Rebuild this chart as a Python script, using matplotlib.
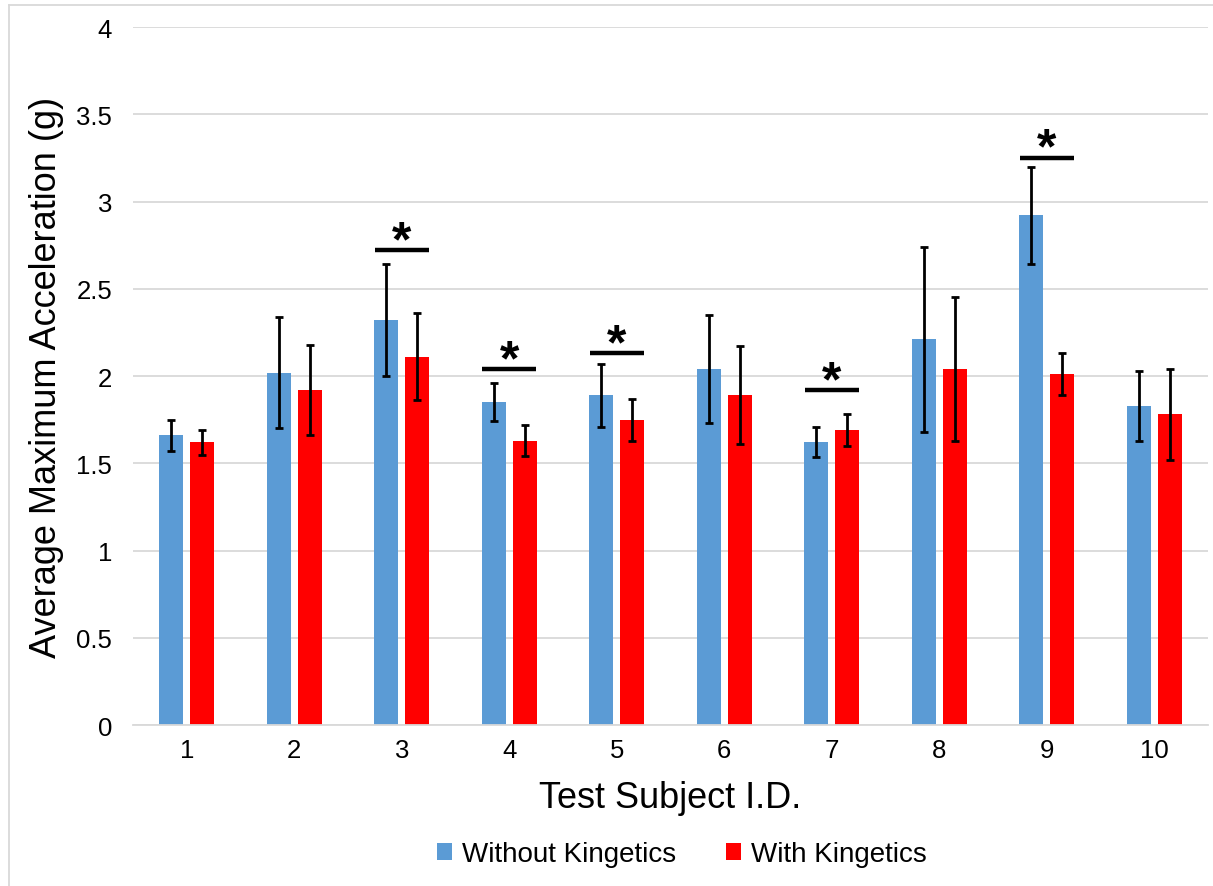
import matplotlib.pyplot as plt
import numpy as np
from matplotlib.lines import Line2D

# data
subjects = ["1", "2", "3", "4", "5", "6", "7", "8", "9", "10"]
without_mean = [1.66, 2.02, 2.32, 1.85, 1.89, 2.04, 1.62, 2.21, 2.92, 1.83]
without_err = [0.09, 0.32, 0.32, 0.11, 0.18, 0.31, 0.085, 0.53, 0.28, 0.20]
with_mean = [1.62, 1.92, 2.11, 1.63, 1.75, 1.89, 1.69, 2.04, 2.01, 1.78]
with_err = [0.07, 0.26, 0.25, 0.09, 0.12, 0.28, 0.09, 0.41, 0.12, 0.26]

# significance markers (subject index, bar height)
sig_subjects = [3, 4, 5, 7, 9]
sig_heights = [2.72, 2.04, 2.13, 1.92, 3.25]

plt.rcParams['font.family'] = ['Liberation Sans', 'DejaVu Sans']

fig = plt.figure(figsize=(12.13, 8.87), dpi=100)
ax = fig.add_axes([0.1096, 0.1815, 0.8863, 0.7869])

x = np.arange(len(subjects))
w = 0.225
off = 0.145
blue = "#5B9BD5"
red = "#FF0000"

ax.bar(x - off, without_mean, w, color=blue, label="Without Kingetics", zorder=2)
ax.bar(x + off, with_mean, w, color=red, label="With Kingetics", zorder=2)
ax.errorbar(x - off, without_mean, yerr=without_err, fmt="none", ecolor="black",
            elinewidth=2, capsize=3, capthick=2, zorder=3)
ax.errorbar(x + off, with_mean, yerr=with_err, fmt="none", ecolor="black",
            elinewidth=2, capsize=3, capthick=2, zorder=3)

for s, h in zip(sig_subjects, sig_heights):
    i = s - 1
    ax.plot([i - 0.25, i + 0.25], [h, h], color="black", lw=3.2, solid_capstyle="butt", zorder=3)
    ax.annotate("*", (i, h), xytext=(0, -3.5), textcoords="offset points",
                ha="center", va="baseline", fontsize=36, fontweight="bold", zorder=3)

ax.set_xlim(-0.5, len(subjects) - 0.5)
ax.set_ylim(0, 4)
ax.set_yticks(np.arange(0, 4.01, 0.5))
ax.set_yticklabels(["0", "0.5", "1", "1.5", "2", "2.5", "3", "3.5", "4"])
ax.set_xticks(x)
ax.set_xticklabels(subjects)
ax.tick_params(axis="both", length=0, labelsize=18.5)
ax.tick_params(axis="y", pad=15)
ax.tick_params(axis="x", pad=9)

ax.yaxis.grid(True, color="#D9D9D9", lw=1.3, zorder=0)
ax.set_axisbelow(True)
for sp in ["top", "right", "left"]:
    ax.spines[sp].set_visible(False)
ax.spines["bottom"].set_color("#D9D9D9")
ax.spines["bottom"].set_linewidth(1.3)

ax.set_xlabel("Test Subject I.D.", fontsize=26, labelpad=13)
ax.set_ylabel("Average Maximum Acceleration (g)", fontsize=26, labelpad=9)

fig.legend(loc="center", bbox_to_anchor=(0.562, 1 - 855 / 887), ncol=2, frameon=False,
           fontsize=20, handlelength=0.55, handleheight=0.55, handletextpad=0.35,
           columnspacing=1.8)

# chart border (left and top visible)
fig.add_artist(Line2D([8.5 / 1213, 8.5 / 1213], [0, 1 - 5.5 / 887], color="#D9D9D9",
                      lw=1.3, transform=fig.transFigure))
fig.add_artist(Line2D([8.5 / 1213, 1], [1 - 5.5 / 887, 1 - 5.5 / 887], color="#D9D9D9",
                      lw=1.3, transform=fig.transFigure))

fig.savefig("out.png", dpi=100)
